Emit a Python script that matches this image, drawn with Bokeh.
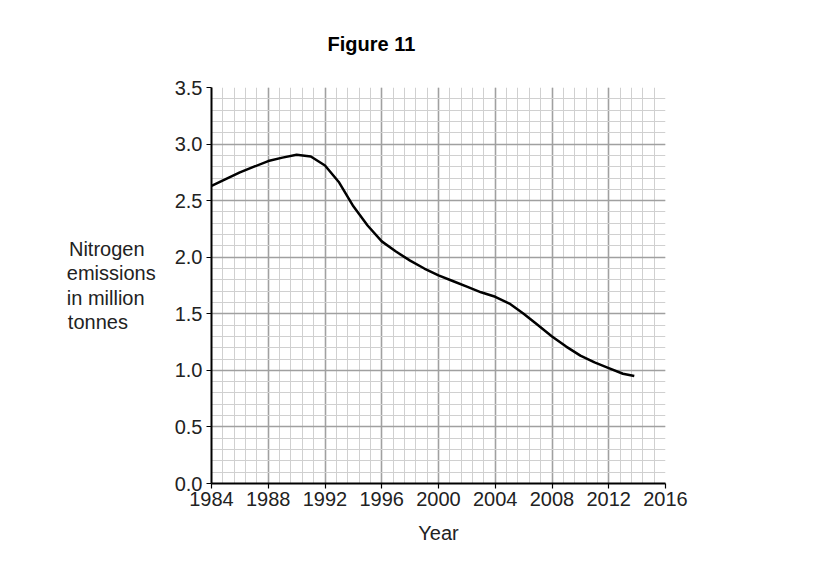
from bokeh.plotting import figure
from bokeh.models import FixedTicker
from bokeh.embed import file_html
from bokeh.resources import INLINE

years = [1984, 1985, 1986, 1987, 1988, 1989, 1990, 1991, 1992, 1993, 1994, 1995,
         1996, 1997, 1998, 1999, 2000, 2001, 2002, 2003, 2004, 2005, 2006, 2007,
         2008, 2009, 2010, 2011, 2012, 2013, 2013.8]
emissions = [2.63, 2.69, 2.75, 2.80, 2.85, 2.88, 2.905, 2.89, 2.81, 2.66, 2.45, 2.28,
             2.14, 2.05, 1.97, 1.90, 1.84, 1.79, 1.74, 1.69, 1.65, 1.59, 1.50, 1.40,
             1.30, 1.21, 1.13, 1.07, 1.02, 0.97, 0.95]
x_ticks = [1984, 1988, 1992, 1996, 2000, 2004, 2008, 2012, 2016]
y_ticks = [0.0, 0.5, 1.0, 1.5, 2.0, 2.5, 3.0, 3.5]
x_minor = [round(1984 + 0.8 * i, 2) for i in range(41)]
y_minor = [round(0.1 * i, 2) for i in range(36)]
y_label_lines = ["Nitrogen", "emissions", "in million", "tonnes"]

FONT = "Liberation Sans"
NB = "\u00a0"
pad = {"Nitrogen": 2, "emissions": 0, "in million": 2, "tonnes": 5}

p = figure(width=826, height=562, frame_width=454, frame_height=396,
           min_border_left=211, min_border_right=161, min_border_top=87,
           min_border_bottom=79, x_range=(1984, 2016), y_range=(0, 3.5),
           output_backend="svg", toolbar_location=None, background_fill_color="white",
           title="Figure 11")
p.outline_line_color = None

p.title.text_font = FONT
p.title.text_font_size = "20px"
p.title.text_font_style = "bold"
p.title.text_color = "black"
p.title.align = "left"
p.title.offset = 116
p.title.standoff = 62
p.title.vertical_align = "top"

p.xaxis.ticker = FixedTicker(ticks=x_ticks, minor_ticks=x_minor)
p.yaxis.ticker = FixedTicker(ticks=y_ticks, minor_ticks=y_minor)
p.yaxis.major_label_overrides = {t: f"{t:.1f}" for t in y_ticks}

for ax in (p.xaxis[0], p.yaxis[0]):
    ax.axis_line_color = "black"
    ax.axis_line_width = 2
    ax.major_tick_line_color = "black"
    ax.major_tick_line_width = 1.2
    ax.major_tick_in = 0
    ax.major_tick_out = 5
    ax.minor_tick_line_color = None
    ax.major_label_text_font = FONT
    ax.major_label_text_font_size = "20px"
    ax.major_label_text_color = "#222222"
    ax.major_label_standoff = 4
    ax.axis_label_text_font = FONT
    ax.axis_label_text_font_size = "20px"
    ax.axis_label_text_font_style = "normal"
    ax.axis_label_text_color = "#222222"

p.xaxis.major_label_standoff = 3
p.xaxis.axis_label = "Year"
p.xaxis.axis_label_standoff = 13

p.yaxis.axis_label = "\n".join(s + NB * pad[s] for s in y_label_lines)
p.yaxis.axis_label_orientation = "horizontal"
p.yaxis.axis_label_text_line_height = 1.1
p.yaxis.axis_label_standoff = 16

for g in (p.xgrid[0], p.ygrid[0]):
    g.grid_line_color = "#a0a0a0"
    g.grid_line_width = 1.6
    g.minor_grid_line_color = "#d0d0d0"
    g.minor_grid_line_width = 1

p.line(years, emissions, line_color="black", line_width=2.5)

open("out.html", "w").write(file_html(p, INLINE))
